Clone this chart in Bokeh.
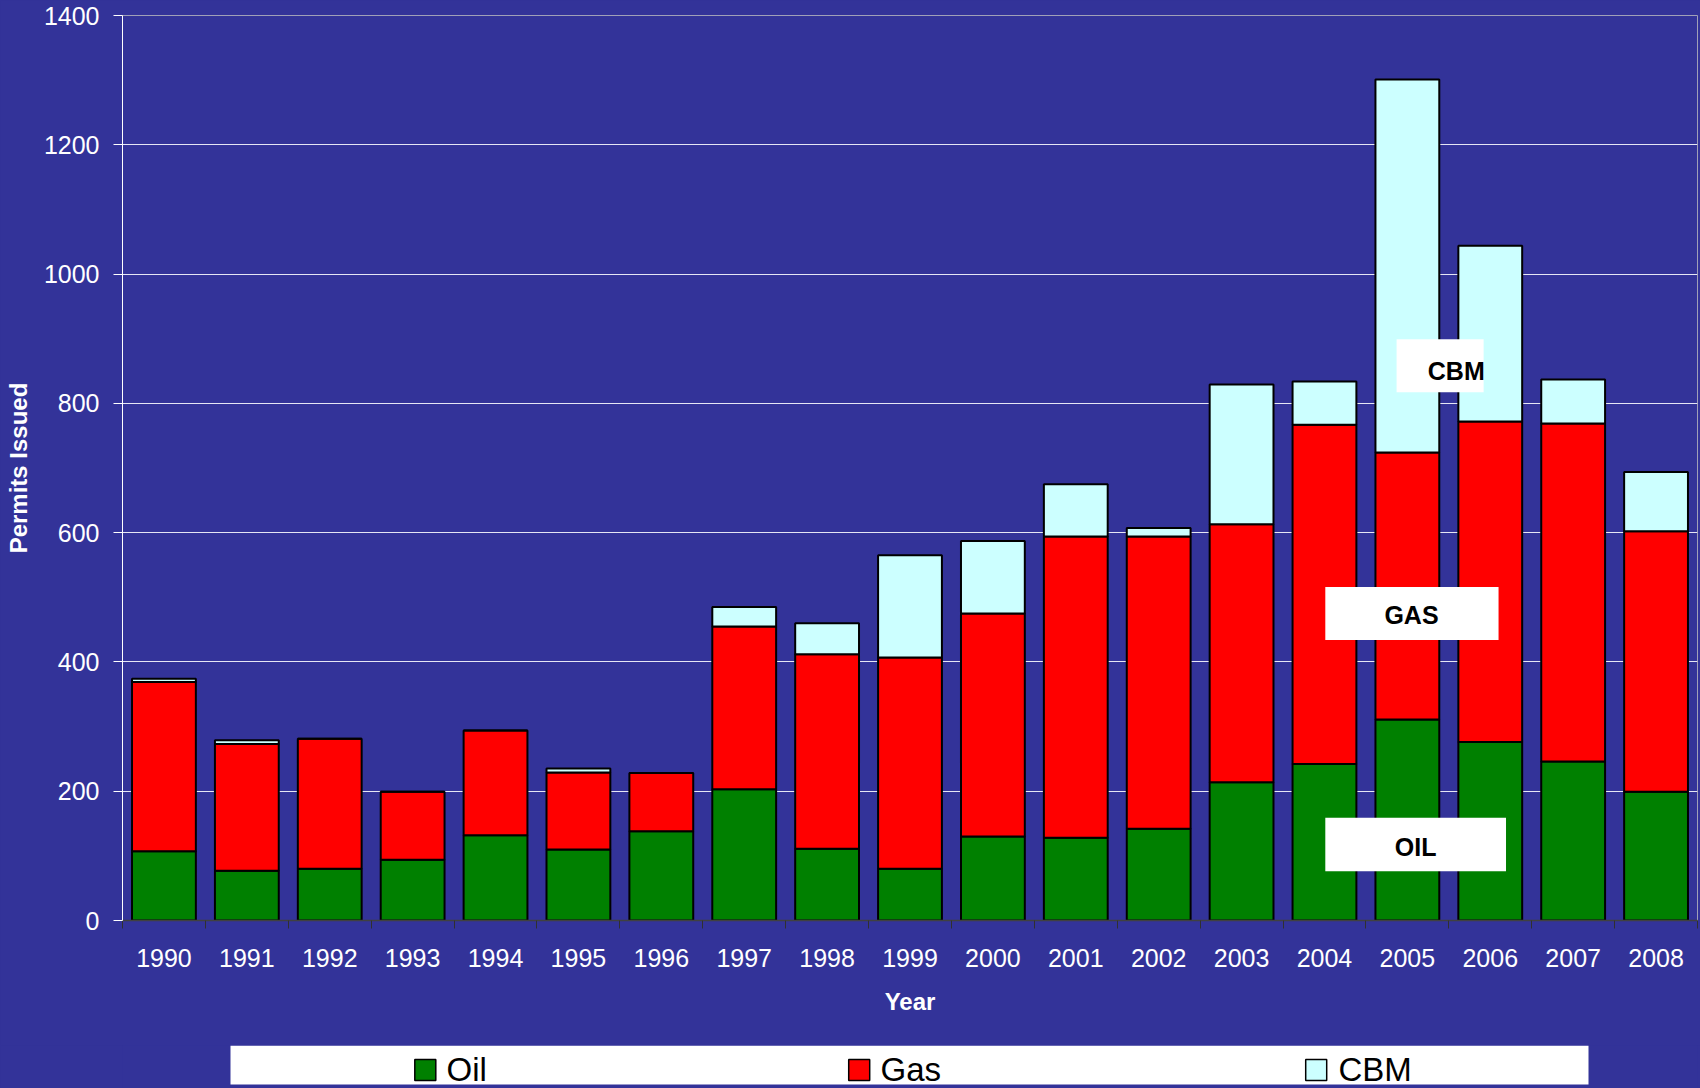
from bokeh.plotting import figure
from bokeh.models import (ColumnDataSource, Range1d, FixedTicker, BoxAnnotation, Label)
from bokeh.core.properties import value
from bokeh.layouts import column
from bokeh.embed import file_html
from bokeh.resources import INLINE

# ---------------- data ----------------
years = ["1990", "1991", "1992", "1993", "1994", "1995", "1996", "1997", "1998", "1999",
         "2000", "2001", "2002", "2003", "2004", "2005", "2006", "2007", "2008"]
oil = [107, 77, 80, 94, 132, 110, 138, 203, 111, 80, 130, 128, 142, 214, 242, 311, 276, 246, 199]
gas = [262, 196, 201, 105, 162, 119, 90, 252, 301, 327, 345, 466, 452, 399, 525, 413, 496, 523, 403]
cbm = [5, 6, 0, 0, 0, 6, 0, 30, 48, 158, 112, 81, 13, 216, 67, 577, 272, 68, 92]
series_names = ["Oil", "Gas", "CBM"]
y_ticks = [0, 200, 400, 600, 800, 1000, 1200, 1400]

# in-chart annotation labels: text, box (left, right, bottom, top) in data units, text centre
annot_text = ["CBM", "GAS", "OIL"]
annot_box = [(15.37, 16.42, 817, 899), (14.51, 16.60, 434, 516), (14.51, 16.69, 76, 159)]
annot_pos = [(16.09, 850), (15.55, 472), (15.60, 114)]

# legend strip layout (page pixels)
leg_box = (230, 1588, 1045, 1084)          # left, right, top, bottom
leg_swatch_x = [424.8, 858.7, 1315.7]
leg_swatch_y = 1069.5
leg_text_x = [446, 880, 1338]
leg_text_y = 1068.5

BG = "#333399"
colors = ["#008000", "#FF0000", "#CCFFFF"]
FONT = "Liberation Sans"

x = [i + 0.5 for i in range(len(years))]
src = ColumnDataSource(dict(x=x, year=years, Oil=oil, Gas=gas, CBM=cbm))

p = figure(width=1700, height=1045, output_backend="svg", toolbar_location=None,
           x_range=Range1d(0, len(years)), y_range=Range1d(0, 1400),
           background_fill_color=BG, border_fill_color=BG,
           min_border_left=122, min_border_right=3, min_border_top=15, min_border_bottom=125)
p.outline_line_color = "#a0a0b8"

p.vbar_stack(series_names, x="x", width=0.77, source=src,
             fill_color=colors, line_color="black", line_width=2)

# axes
p.yaxis.ticker = FixedTicker(ticks=y_ticks)
p.yaxis.axis_line_color = "white"
p.yaxis.major_tick_line_color = "white"
p.yaxis.major_tick_out = 9
p.yaxis.major_tick_in = 0
p.yaxis.minor_tick_line_color = None
p.yaxis.major_label_text_color = "white"
p.yaxis.major_label_text_font = FONT
p.yaxis.major_label_text_font_size = "25px"
p.yaxis.major_label_standoff = 14
p.yaxis.axis_label = "Permits Issued"
p.yaxis.axis_label_text_color = "white"
p.yaxis.axis_label_text_font = FONT
p.yaxis.axis_label_text_font_style = "bold"
p.yaxis.axis_label_text_font_size = "24px"
p.yaxis.axis_label_standoff = 9

p.xaxis.ticker = FixedTicker(ticks=x, minor_ticks=list(range(len(years) + 1)))
p.xaxis.major_label_overrides = {xv: yr for xv, yr in zip(x, years)}
p.xaxis.axis_line_color = "#404040"
p.xaxis.axis_line_width = 1.5
p.xaxis.major_tick_line_color = None
p.xaxis.major_tick_out = 0
p.xaxis.major_tick_in = 0
p.xaxis.minor_tick_line_color = "#303030"
p.xaxis.minor_tick_out = 8
p.xaxis.minor_tick_in = 0
p.xaxis.major_label_text_color = "white"
p.xaxis.major_label_text_font = FONT
p.xaxis.major_label_text_font_size = "25px"
p.xaxis.major_label_standoff = 20
p.xaxis.axis_label = "Year"
p.xaxis.axis_label_text_color = "white"
p.xaxis.axis_label_text_font = FONT
p.xaxis.axis_label_text_font_style = "bold"
p.xaxis.axis_label_text_font_size = "24px"
p.xaxis.axis_label_standoff = 18

p.xgrid.grid_line_color = None
p.ygrid.ticker = FixedTicker(ticks=y_ticks)
p.ygrid.grid_line_color = "#e6e6f5"
p.ygrid.grid_line_width = 1

for txt, (l, r, b, t), (tx, ty) in zip(annot_text, annot_box, annot_pos):
    p.add_layout(BoxAnnotation(left=l, right=r, bottom=b, top=t, fill_color="white",
                               fill_alpha=1.0, line_color=None, level="overlay"))
    p.add_layout(Label(x=tx, y=ty, text=txt, text_align="center", text_baseline="middle",
                       text_font=FONT, text_font_style="bold",
                       text_font_size="25px", text_color="black", level="overlay"))

# ---------------- legend strip ----------------
lg = figure(width=1700, height=43, output_backend="svg", toolbar_location=None,
            x_axis_type=None, y_axis_type=None,
            x_range=Range1d(122, 1697), y_range=Range1d(1088, 1045),
            background_fill_color=BG, border_fill_color=BG,
            min_border_left=122, min_border_right=3, min_border_top=0, min_border_bottom=0)
lg.outline_line_color = None
lg.grid.visible = False
lg.quad(left=[leg_box[0]], right=[leg_box[1]], top=[leg_box[2]], bottom=[leg_box[3]],
        fill_color="white", line_color=None)
lg.rect(x=leg_swatch_x, y=[leg_swatch_y] * 3, width=21, height=21,
        fill_color=colors, line_color="black", line_width=1.5)
lg.text(x=leg_text_x, y=[leg_text_y] * 3, text=series_names,
        text_font=value(FONT), text_font_size="33px", text_color="black",
        text_align="left", text_baseline="middle")

layout = column(p, lg, spacing=0, styles={"background-color": BG})
open("out.html", "w").write(file_html(layout, INLINE))
